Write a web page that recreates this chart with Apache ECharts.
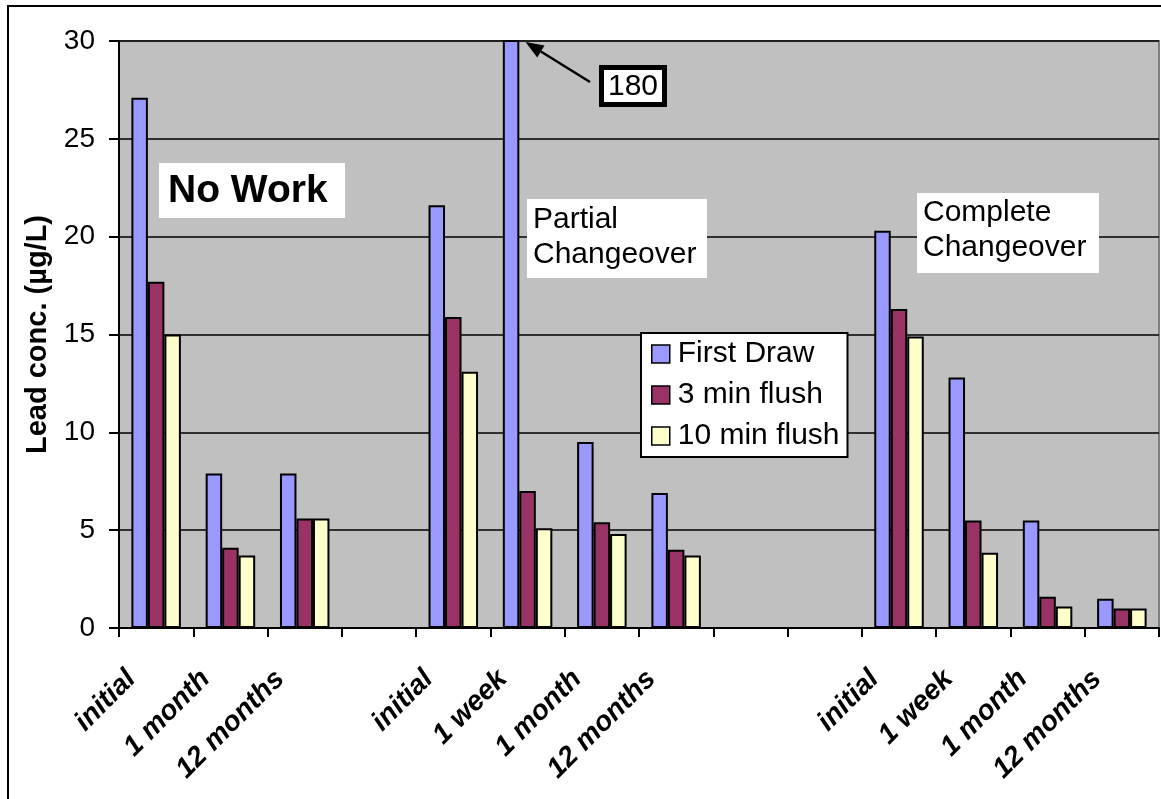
<!DOCTYPE html>
<html>
<head>
<meta charset="utf-8">
<script src="https://cdn.jsdelivr.net/npm/echarts@6/dist/echarts.min.js"></script>
<style>
  html, body { margin: 0; padding: 0; background: #fff; }
  #chart { width: 1161px; height: 799px; }
</style>
</head>
<body>
<div id="chart"></div>
<script>
// Sampling points for each site group (blank slots separate the groups)
const categories = ['initial', '1 month', '12 months', '',
                    'initial', '1 week', '1 month', '12 months', '', '',
                    'initial', '1 week', '1 month', '12 months'];

// Lead concentration, µg/L
const firstDraw = [27.1, 7.9, 7.9, null, 21.6, 180, 9.5, 6.9, null, null, 20.3, 12.8, 5.5, 1.5];
const flush3    = [17.7, 4.1, 5.6, null, 15.9, 7.0, 5.4, 4.0, null, null, 16.3, 5.5, 1.6, 1.0];
const flush10   = [15.0, 3.7, 5.6, null, 13.1, 5.1, 4.8, 3.7, null, null, 14.9, 3.85, 1.1, 1.0];

const seriesNames = ['First Draw', '3 min flush', '10 min flush'];
const seriesColors = ['#9999FF', '#993366', '#FFFFCC'];

const yTicks = { min: 0, max: 30, interval: 5 };

const FONT = '"Liberation Sans", Arial, sans-serif';

const chart = echarts.init(document.getElementById('chart'), null, { renderer: 'canvas' });

const barStyle = (color) => ({
  color: color,
  borderColor: '#000',
  borderWidth: 2
});

const option = {
  animation: false,
  backgroundColor: '#fff',
  grid: {
    left: 119, top: 41, right: 2, bottom: 171,
    show: true,
    backgroundColor: '#C0C0C0',
    borderColor: '#808080',
    borderWidth: 2,
    containLabel: false,
    outerBoundsMode: 'none'
  },
  legend: {
    orient: 'vertical',
    left: 641, top: 333,
    padding: [6, 8, 6, 10],
    itemGap: 11,
    itemWidth: 18, itemHeight: 18,
    icon: 'rect',
    backgroundColor: '#fff',
    borderColor: '#000',
    borderWidth: 2,
    borderRadius: 0,
    selectedMode: false,
    itemStyle: { borderColor: '#000', borderWidth: 1.5 },
    textStyle: { fontFamily: FONT, fontSize: 30, color: '#000', padding: [0, 0, 0, 3] },
    data: seriesNames
  },
  xAxis: {
    type: 'category',
    data: categories,
    axisLine: { show: true, lineStyle: { color: '#000', width: 2 } },
    axisTick: { show: true, alignWithLabel: false, interval: 0, length: 9, lineStyle: { color: '#000', width: 2 } },
    axisLabel: {
      interval: 0,
      rotate: 45,
      margin: 22,
      padding: [0, 35, 0, 0],
      fontFamily: FONT,
      fontSize: 28,
      fontWeight: 'bold',
      fontStyle: 'italic',
      color: '#000',
      hideOverlap: false
    },
    splitLine: { show: false }
  },
  yAxis: {
    type: 'value',
    min: yTicks.min, max: yTicks.max, interval: yTicks.interval,
    name: 'Lead conc. (µg/L)',
    nameLocation: 'middle',
    nameGap: 61,
    nameTextStyle: { fontFamily: FONT, fontSize: 29, fontWeight: 'bold', color: '#000' },
    axisLine: { show: true, lineStyle: { color: '#000', width: 2 } },
    axisTick: { show: true, length: 10, lineStyle: { color: '#000', width: 2 } },
    axisLabel: { margin: 24, fontFamily: FONT, fontSize: 28, color: '#000' },
    splitLine: { show: true, lineStyle: { color: '#000', width: 1.5 } }
  },
  series: [firstDraw, flush3, flush10].map((d, i) => ({
    name: seriesNames[i],
    type: 'bar',
    data: d,
    barWidth: 16.5,
    barGap: '0%',
    clip: true,
    itemStyle: barStyle(seriesColors[i]),
    emphasis: { disabled: true }
  }))
};

chart.setOption(option);

// Annotations: group captions, the off-scale value callout and the outer frame
const tip = chart.convertToPixel({ xAxisIndex: 0, yAxisIndex: 0 }, [5, yTicks.max]);
const tipX = tip[0] - 2, tipY = tip[1] + 1;
const tailX = 590, tailY = 82;
const ang = Math.atan2(tailY - tipY, tailX - tipX);
const headLen = 18, headHalf = 7;
const bx = tipX + headLen * Math.cos(ang), by = tipY + headLen * Math.sin(ang);
const px = -Math.sin(ang) * headHalf, py = Math.cos(ang) * headHalf;

const textBox = (x, y, w, h) => ({
  type: 'rect', shape: { x: x, y: y, width: w, height: h },
  style: { fill: '#fff', stroke: null }, z: 10
});

chart.setOption({
  graphic: [
    // outer chart frame
    { type: 'rect', shape: { x: 8, y: 6, width: 1300, height: 900 },
      style: { fill: null, stroke: '#000', lineWidth: 2 }, z: 20, silent: true },

    textBox(159, 163, 186, 55),
    { type: 'text', x: 168, y: 191.5, z: 11,
      style: { text: 'No Work', font: 'bold 39px ' + FONT, fill: '#000', verticalAlign: 'middle', align: 'left' } },

    textBox(527, 199, 180, 79),
    { type: 'text', x: 533, y: 237, z: 11,
      style: { text: 'Partial\nChangeover', font: '30px ' + FONT, lineHeight: 35, fill: '#000', verticalAlign: 'middle', align: 'left' } },

    textBox(917, 193, 182, 80),
    { type: 'text', x: 923, y: 230, z: 11,
      style: { text: 'Complete\nChangeover', font: '30px ' + FONT, lineHeight: 35, fill: '#000', verticalAlign: 'middle', align: 'left' } },

    // callout for the off-scale first-draw value
    { type: 'line', shape: { x1: tailX, y1: tailY, x2: bx, y2: by },
      style: { stroke: '#000', lineWidth: 2.5 }, z: 12 },
    { type: 'polygon', shape: { points: [[tipX, tipY], [bx + px, by + py], [bx - px, by - py]] },
      style: { fill: '#000' }, z: 12 },
    { type: 'rect', shape: { x: 601.5, y: 67.5, width: 63, height: 37 },
      style: { fill: '#fff', stroke: '#000', lineWidth: 5 }, z: 12 },
    { type: 'text', x: 633, y: 86.5, z: 13,
      style: { text: String(firstDraw[5]), font: '30px ' + FONT, fill: '#000', align: 'center', verticalAlign: 'middle' } }
  ]
});
</script>
</body>
</html>
